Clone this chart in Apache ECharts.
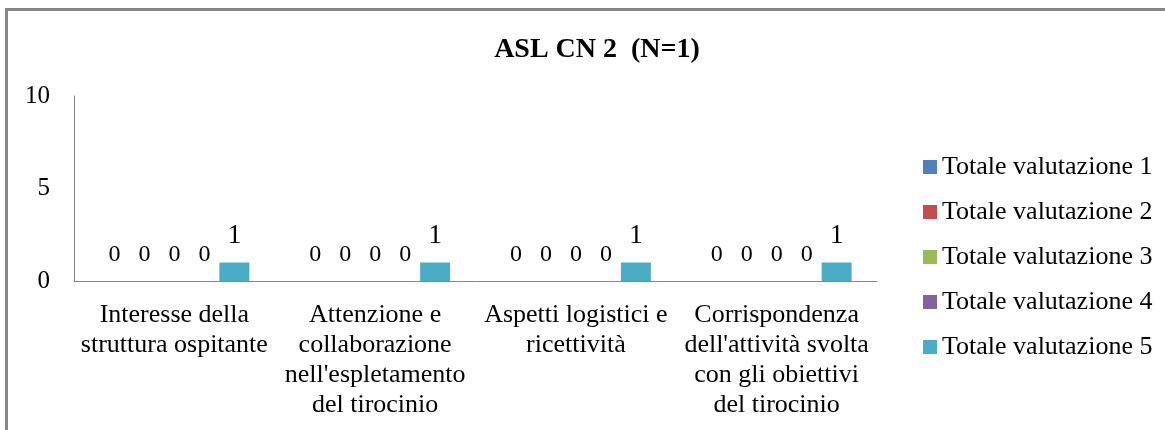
<!DOCTYPE html>
<html>
<head>
<meta charset="utf-8">
<script src="https://cdn.jsdelivr.net/npm/echarts@6/dist/echarts.min.js"></script>
<style>
    html, body { margin: 0; padding: 0; background: #fff; }
    #wrap { position: relative; width: 1165px; height: 430px; overflow: hidden; }
    #frame { position: absolute; left: 5px; top: 8px; width: 1200px; height: 500px; border-top: 3px solid #868686; border-left: 3px solid #868686; }
    #myEchart { position: absolute; left: 0; top: 0; width: 1165px; height: 430px; }
</style>
</head>
<body>
<div id="wrap">
    <div id="frame"></div>
    <div id="myEchart"></div>
</div>
<script>
var categories = [
    'Interesse della\nstruttura ospitante',
    'Attenzione e\ncollaborazione\nnell\'espletamento\ndel tirocinio',
    'Aspetti logistici e\nricettività',
    'Corrispondenza\ndell\'attività svolta\ncon gli obiettivi\ndel tirocinio'
];
var seriesNames = ['Totale valutazione 1', 'Totale valutazione 2', 'Totale valutazione 3', 'Totale valutazione 4', 'Totale valutazione 5'];
var val1 = [0, 0, 0, 0];
var val2 = [0, 0, 0, 0];
var val3 = [0, 0, 0, 0];
var val4 = [0, 0, 0, 0];
var val5 = [1, 1, 1, 1];
var colors = ['#4f81bd', '#c0504d', '#9bbb59', '#8064a2', '#4bacc6'];

var font = '"Liberation Serif", "Times New Roman", serif';
var chart = echarts.init(document.getElementById('myEchart'));

var allValues = [val1, val2, val3, val4, val5];
var series = [];
for (var i = 0; i < seriesNames.length; i++) {
    var last = i == seriesNames.length - 1;
    series.push({
        name: seriesNames[i],
        type: 'bar',
        data: allValues[i],
        barWidth: 30,
        barGap: '0%',
        itemStyle: { color: colors[i] },
        label: {
            show: true,
            position: 'top',
            distance: last ? 13 : 14,
            color: '#000',
            fontFamily: font,
            fontSize: last ? 27 : 24,
            lineHeight: last ? 27 : 24
        }
    });
}

var option = {
    animation: false,
    textStyle: { fontFamily: font },
    title: {
        text: 'ASL CN 2  (N=1)',
        left: 592,
        top: 31,
        textAlign: 'center',
        textStyle: { fontFamily: font, fontSize: 28, fontWeight: 'bold', color: '#000' }
    },
    legend: {
        orient: 'vertical',
        left: 918,
        top: 149,
        itemWidth: 14,
        itemHeight: 14,
        itemGap: 19,
        icon: 'rect',
        data: seriesNames,
        textStyle: { fontFamily: font, fontSize: 26, color: '#000', lineHeight: 26 }
    },
    grid: {
        left: 74,
        right: 288,
        top: 96,
        bottom: 149,
        containLabel: false
    },
    xAxis: {
        type: 'category',
        data: categories,
        axisLine: { lineStyle: { color: '#868686', width: 1 } },
        axisTick: { show: false },
        axisLabel: {
            interval: 0,
            color: '#000',
            fontFamily: font,
            fontSize: 26,
            lineHeight: 30,
            margin: 19
        }
    },
    yAxis: {
        type: 'value',
        min: 0,
        max: 10,
        interval: 5,
        splitLine: { show: false },
        axisLine: { show: true, lineStyle: { color: '#868686', width: 1 } },
        axisTick: { show: false },
        axisLabel: {
            color: '#000',
            fontFamily: font,
            fontSize: 25,
            margin: 24
        }
    },
    series: series
};
chart.setOption(option);
</script>
</body>
</html>
